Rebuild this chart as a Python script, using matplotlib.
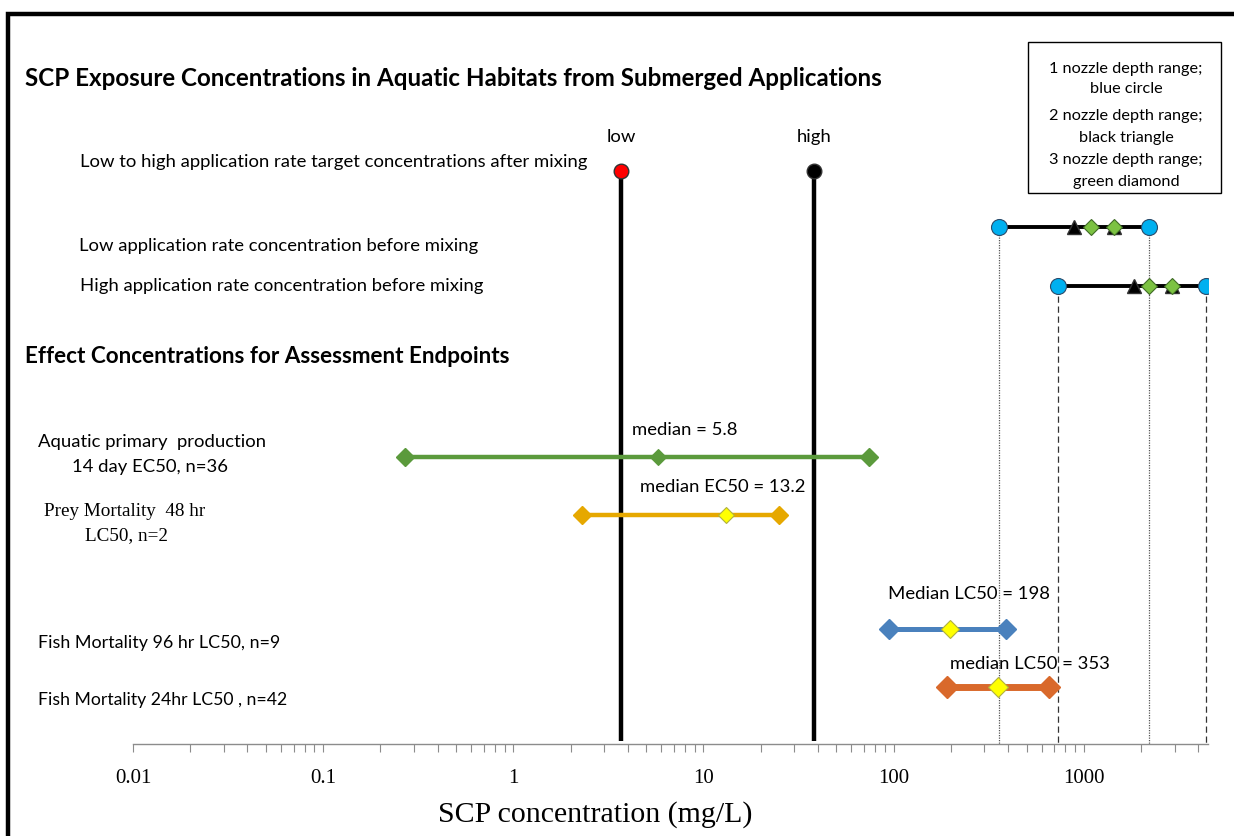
import numpy as np
import matplotlib
matplotlib.use("Agg")
import matplotlib.pyplot as plt
from matplotlib.patches import Rectangle
from matplotlib.ticker import LogLocator, NullFormatter, FixedLocator, FixedFormatter

# ---- data (mg/L) ----
target_labels = ["low", "high"]
target_conc = [3.7, 38.0]

low_rate_circle = [360.0, 2200.0]
low_rate_triangle = [885.0, 1440.0]
low_rate_diamond = [1090.0, 1440.0]
high_rate_circle = [730.0, 4400.0]
high_rate_triangle = [1830.0, 2900.0]
high_rate_diamond = [2200.0, 2900.0]

effect_min = [0.27, 2.3, 95.0, 190.0]
effect_median = [5.8, 13.2, 198.0, 353.0]
effect_max = [74.0, 25.0, 390.0, 660.0]
median_labels = ["median = 5.8", "median EC50 = 13.2", "Median LC50 = 198", "median LC50 = 353"]

xticks = [0.01, 0.1, 1, 10, 100, 1000]
xtick_labels = ["0.01", "0.1", "1", "10", "100", "1000"]

# ---- figure setup ----
W, H = 1234, 837
fig = plt.figure(figsize=(W / 100, H / 100), dpi=100, facecolor="w")
SANS = ["Lato", "DejaVu Sans"]
SERIF = ["Liberation Serif", "DejaVu Serif"]
FS = 13.3  # body text size


def fx(x):
    return x / W


def fy(y):
    return 1 - y / H


# axes: x in log concentration, y in pixel rows (top = 0)
ax_l, ax_r, ax_b = 133, 1208, 745
ax = fig.add_axes([fx(ax_l), fy(ax_b), fx(ax_r - ax_l), 1 - fy(ax_b)])
ax.set_xscale("log")
ax.set_xlim(0.01, 4500)
ax.set_ylim(ax_b, 0)
for s in ["top", "left", "right"]:
    ax.spines[s].set_visible(False)
ax.spines["bottom"].set_color("#8c8c8c")
ax.spines["bottom"].set_linewidth(1.0)
ax.set_yticks([])
ax.xaxis.set_major_locator(FixedLocator(xticks))
ax.xaxis.set_major_formatter(FixedFormatter(xtick_labels))
ax.xaxis.set_minor_locator(LogLocator(base=10, subs=np.arange(2, 10)))
ax.xaxis.set_minor_formatter(NullFormatter())
ax.tick_params(axis="x", which="both", direction="out", length=6, width=0.8,
               color="#8c8c8c", pad=11)
for lab in ax.get_xticklabels():
    lab.set_family(SERIF)
    lab.set_fontsize(15)
fig.text(fx(595), fy(815), "SCP concentration (mg/L)", ha="center", va="center",
         family=SERIF, fontsize=21.5)

# row positions (pixel rows)
y_target = 172
y_low = 228
y_high = 287
y_effects = [458, 516, 630, 688]

# target concentration stems
stem_colors = ["#ff0000", "black"]
for x, lab, c in zip(target_conc, target_labels, stem_colors):
    ax.plot([x, x], [y_target, ax_b - 3], color="black", lw=3.2, zorder=3,
            solid_capstyle="butt")
    ax.plot([x], [y_target], marker="o", ms=10.5, mfc=c, mec="#333333", mew=1, zorder=4)
    ax.text(x, 137, lab, ha="center", va="center", family=SANS, fontsize=FS)

# guide lines from the exposure ranges down to the axis
for x in low_rate_circle:
    ax.plot([x, x], [y_low, ax_b], color="#555555", lw=0.9, ls=(0, (1, 1)), zorder=1)
for x in high_rate_circle:
    ax.plot([x, x], [y_high, ax_b], color="#333333", lw=0.9, ls=(0, (5, 3)), zorder=1)

# exposure ranges before mixing
for yy, circ, tri, dia in [(y_low, low_rate_circle, low_rate_triangle, low_rate_diamond),
                           (y_high, high_rate_circle, high_rate_triangle, high_rate_diamond)]:
    ax.plot(circ, [yy, yy], color="black", lw=2.8, zorder=3)
    ax.plot(tri, [yy, yy], ls="none", marker="^", ms=10, mfc="black", mec="#333333",
            zorder=4)
    ax.plot(dia, [yy, yy], ls="none", marker="D", ms=8.5, mfc="#7cc242", mec="#3f6b25",
            mew=0.8, zorder=5)
    ax.plot(circ, [yy, yy], ls="none", marker="o", ms=11.5, mfc="#00b0f0", mec="#2a4a6a",
            mew=0.8, zorder=5)

# effect concentration ranges
eff_colors = ["#5b9a3c", "#e6a800", "#4a81bd", "#d9692b"]
eff_lw = [3.2, 3.2, 3.6, 5.0]
eff_ms = [9, 9, 10.5, 11]
median_fill = ["#5b9a3c", "#ffff00", "#ffff00", "#ffff00"]
label_pos = [(685, 430), (723, 487), (969, 594), (1030, 664)]
for i, yy in enumerate(y_effects):
    c = eff_colors[i]
    ax.plot([effect_min[i], effect_max[i]], [yy, yy], color=c, lw=eff_lw[i], zorder=3)
    ax.plot([effect_min[i], effect_max[i]], [yy, yy], ls="none", marker="D",
            ms=eff_ms[i], mfc=c, mec=c, zorder=4)
    ax.plot([effect_median[i]], [yy], ls="none", marker="D", ms=eff_ms[i] - 1,
            mfc=median_fill[i], mec="#b0b040" if i else c, mew=0.8, zorder=5)
    lx, ly = label_pos[i]
    fig.text(fx(lx), fy(ly), median_labels[i], ha="center", va="center",
             family=SANS, fontsize=FS)

# headings
fig.text(fx(25), fy(78), "SCP Exposure Concentrations in Aquatic Habitats from Submerged Applications",
         ha="left", va="center", family=SANS, fontsize=17.4, fontweight="bold")
fig.text(fx(25), fy(357), "Effect Concentrations for Assessment Endpoints",
         ha="left", va="center", family=SANS, fontsize=16.2, fontweight="bold")

# row labels
fig.text(fx(80), fy(162), "Low to high application rate target concentrations after mixing",
         ha="left", va="center", family=SANS, fontsize=FS)
fig.text(fx(79), fy(246), "Low application rate concentration before mixing",
         ha="left", va="center", family=SANS, fontsize=FS)
fig.text(fx(80), fy(286), "High application rate concentration before mixing",
         ha="left", va="center", family=SANS, fontsize=FS)
fig.text(fx(38), fy(442), "Aquatic primary  production", ha="left", va="center",
         family=SANS, fontsize=FS)
fig.text(fx(150), fy(467), "14 day EC50, n=36", ha="center", va="center",
         family=SANS, fontsize=FS)
fig.text(fx(44), fy(512), "Prey Mortality  48 hr", ha="left", va="center",
         family=SERIF, fontsize=13.8)
fig.text(fx(126), fy(536), "LC50, n=2", ha="center", va="center",
         family=SERIF, fontsize=13.8)
fig.text(fx(38), fy(643), "Fish Mortality 96 hr LC50, n=9", ha="left", va="center",
         family=SANS, fontsize=12.9)
fig.text(fx(38), fy(700), "Fish Mortality 24hr LC50 , n=42", ha="left", va="center",
         family=SANS, fontsize=12.7)

# marker key box
fig.patches.append(Rectangle((fx(1028), fy(194)), fx(1221 - 1028), (194 - 43) / H,
                             transform=fig.transFigure, fill=False, ec="black", lw=1))
key_lines = ["1 nozzle depth range;", "blue circle", "2 nozzle depth range;",
             "black triangle", "3 nozzle depth range;", "green diamond"]
for txt, yy in zip(key_lines, [69, 89, 116, 138, 160, 182]):
    fig.text(fx(1126), fy(yy), txt, ha="center", va="center", family=SANS, fontsize=11.7)

# outer frame
fig.patches.append(Rectangle((fx(8), fy(H + 20)), fx(W + 40), (H + 20 - 15) / H,
                             transform=fig.transFigure, fill=False, ec="black", lw=3.2))

fig.savefig("out.png", dpi=100, facecolor="w")
